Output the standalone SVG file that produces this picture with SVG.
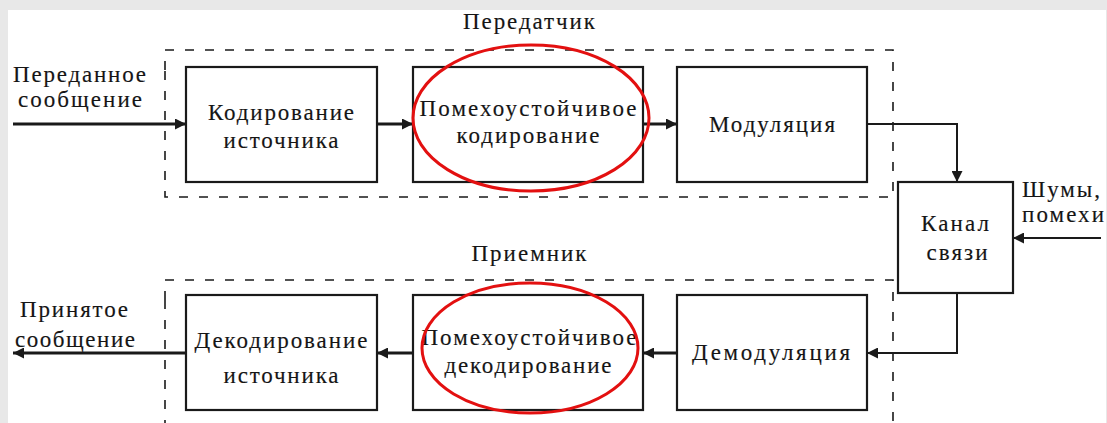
<svg xmlns="http://www.w3.org/2000/svg" width="1107" height="423" viewBox="0 0 1107 423">
<style>
text{font-family:"Liberation Serif","Times New Roman",serif;font-size:23px;fill:#151515;stroke:#151515;stroke-width:0.15}
.box{fill:#fff;stroke:#1a1a1a;stroke-width:2.2}
.dash{fill:none;stroke:#1a1a1a;stroke-width:1.6;stroke-dasharray:9 11}
.w{fill:none;stroke:#1a1a1a;stroke-width:3}
.t{fill:none;stroke:#1a1a1a;stroke-width:2}
.red{fill:none;stroke:#e31010;stroke-width:3}
</style>
<defs>
<marker id="ah" viewBox="0 0 10 10" refX="10" refY="5" markerWidth="13" markerHeight="11" markerUnits="userSpaceOnUse" orient="auto">
<path d="M0,0 L10,5 L0,10 Z" fill="#1a1a1a"/>
</marker>
</defs>
<rect width="1107" height="423" fill="#e8e8e8"/>
<rect x="8" y="10" width="1098" height="413" fill="#fff"/>
<g id="frames">
<path class="dash" d="M165,70 V50 H893 V197 H165 V70"/>
<path class="dash" d="M165,300 V280 H893 V423 M165,300 V423"/>
<text x="529" y="29" text-anchor="middle" textLength="132" lengthAdjust="spacing">Передатчик</text>
<text x="529" y="261" text-anchor="middle" textLength="115" lengthAdjust="spacing">Приемник</text>
</g>
<g id="connectors">
<line class="w" x1="13" y1="124" x2="186" y2="124" marker-end="url(#ah)"/>
<line class="w" x1="377" y1="124" x2="413" y2="124" marker-end="url(#ah)"/>
<line class="w" x1="643" y1="124" x2="677" y2="124" marker-end="url(#ah)"/>
<path class="t" d="M867,124 H957 V182" marker-end="url(#ah)"/>
<line class="t" x1="1101" y1="238" x2="1013" y2="238" marker-end="url(#ah)"/>
<path class="t" d="M957,293 V353 H867" marker-end="url(#ah)"/>
<line class="w" x1="677" y1="353" x2="643" y2="353" marker-end="url(#ah)"/>
<line class="w" x1="413" y1="353" x2="377" y2="353" marker-end="url(#ah)"/>
<line class="w" x1="186" y1="353" x2="13" y2="353" marker-end="url(#ah)"/>
</g>
<g id="lbl-in">
<text x="13" y="82" textLength="133" lengthAdjust="spacing">Переданное</text>
<text x="18" y="107" textLength="124" lengthAdjust="spacing">сообщение</text>
</g>
<g id="lbl-out">
<text x="20" y="317" textLength="108" lengthAdjust="spacing">Принятое</text>
<text x="15" y="347" textLength="120" lengthAdjust="spacing">сообщение</text>
</g>
<g id="lbl-noise">
<text x="1022" y="197" textLength="78" lengthAdjust="spacing">Шумы,</text>
<text x="1022" y="222" textLength="82" lengthAdjust="spacing">помехи</text>
</g>
<g id="src-enc">
<rect class="box" x="186" y="67" width="191" height="115"/>
<text x="281" y="120" text-anchor="middle" textLength="146" lengthAdjust="spacing">Кодирование</text>
<text x="281" y="148" text-anchor="middle" textLength="115" lengthAdjust="spacing">источника</text>
</g>
<g id="ch-enc">
<rect class="box" x="413" y="67" width="230" height="115"/>
<text x="528" y="116" text-anchor="middle" textLength="217" lengthAdjust="spacing">Помехоустойчивое</text>
<text x="528" y="143" text-anchor="middle" textLength="143" lengthAdjust="spacing">кодирование</text>
</g>
<g id="mod">
<rect class="box" x="677" y="67" width="190" height="115"/>
<text x="772" y="132" text-anchor="middle" textLength="126" lengthAdjust="spacing">Модуляция</text>
</g>
<g id="channel">
<rect class="box" x="898" y="182" width="115" height="111"/>
<text x="955" y="231" text-anchor="middle" textLength="68" lengthAdjust="spacing">Канал</text>
<text x="957" y="260" text-anchor="middle" textLength="61" lengthAdjust="spacing">связи</text>
</g>
<g id="demod">
<rect class="box" x="677" y="295" width="190" height="115"/>
<text x="771" y="360" text-anchor="middle" textLength="158" lengthAdjust="spacing">Демодуляция</text>
</g>
<g id="ch-dec">
<rect class="box" x="413" y="295" width="230" height="115"/>
<text x="529" y="345" text-anchor="middle" textLength="215" lengthAdjust="spacing">Помехоустойчивое</text>
<text x="528" y="373" text-anchor="middle" textLength="167" lengthAdjust="spacing">декодирование</text>
</g>
<g id="src-dec">
<rect class="box" x="186" y="295" width="191" height="115"/>
<text x="281" y="348" text-anchor="middle" textLength="173" lengthAdjust="spacing">Декодирование</text>
<text x="281" y="383" text-anchor="middle" textLength="115" lengthAdjust="spacing">источника</text>
</g>
<g id="highlights">
<ellipse class="red" cx="531" cy="118" rx="118" ry="73"/>
<ellipse class="red" cx="530" cy="348" rx="108" ry="65"/>
</g>
</svg>
